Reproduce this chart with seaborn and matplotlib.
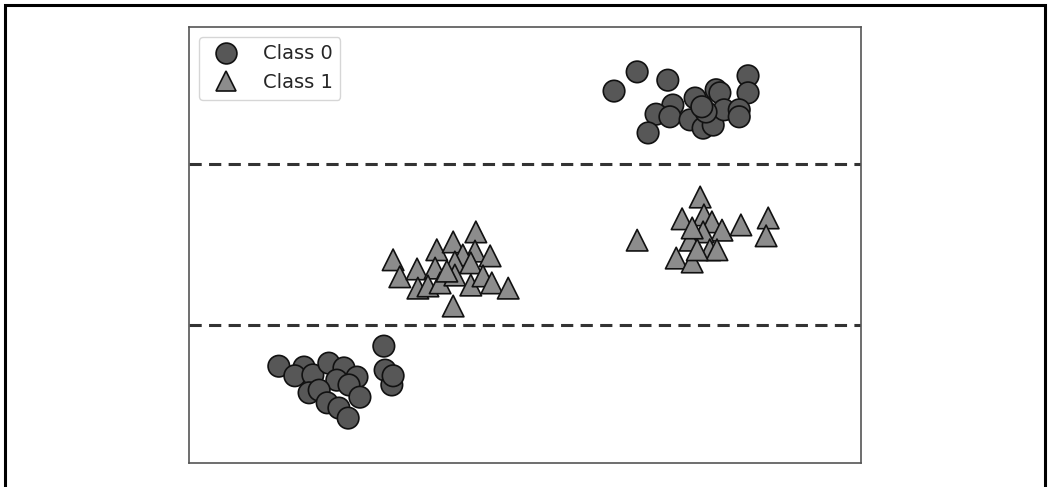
import matplotlib
matplotlib.use("Agg")
import matplotlib.pyplot as plt
from matplotlib.patches import Rectangle
from matplotlib.lines import Line2D
import numpy as np
import pandas as pd
import seaborn as sns

# Class 0: two blobs of circles
class0_x = [10.12, 10.67, 11.40, 13.31, 13.31, 12.55, 12.64, 12.05, 11.52, 11.12,
            11.45, 11.93, 12.24, 12.48, 12.74, 13.10, 13.10, 10.93, 12.31, 12.21,
            2.14, 2.74, 2.52, 2.95, 3.33, 3.69, 4.00, 3.52, 3.81, 2.86,
            3.10, 3.29, 3.57, 3.79, 4.07, 4.64, 4.67, 4.83, 4.86]
class0_y = [8.53, 8.97, 8.78, 8.88, 8.49, 8.56, 8.49, 8.37, 8.21, 8.00,
            7.94, 7.87, 7.68, 7.75, 8.10, 8.10, 7.94, 7.57, 8.05, 8.17,
            2.22, 2.20, 2.00, 2.02, 2.29, 2.18, 1.97, 1.90, 1.79, 1.61,
            1.67, 1.38, 1.26, 1.03, 1.51, 2.68, 2.13, 1.79, 2.00]

# Class 1: two blobs of triangles
class1_x = [10.67, 12.17, 11.74, 12.26, 12.45, 12.69, 13.14, 13.79, 13.74, 12.24,
            11.93, 12.40, 12.57, 11.60, 11.98, 12.10, 11.98,
            4.86, 5.02, 5.43, 5.90, 6.29, 6.83, 6.81, 7.17, 6.52, 5.86,
            6.33, 6.71, 5.45, 5.69, 5.98, 6.33, 6.71, 7.00, 7.21, 7.60,
            6.29, 6.14]
class1_y = [5.11, 6.10, 5.60, 5.69, 5.53, 5.34, 5.46, 5.62, 5.21, 5.30,
            5.11, 4.89, 4.89, 4.70, 4.61, 4.89, 5.39,
            4.66, 4.27, 4.45, 4.89, 5.07, 5.30, 4.86, 4.75, 4.77, 4.47,
            4.61, 4.59, 4.01, 4.06, 4.13, 4.31, 4.08, 4.29, 4.13, 4.01,
            3.60, 4.40]

# Horizontal split thresholds
split_levels = [6.86, 3.17]
class_labels = ["Class 0", "Class 1"]

df = pd.DataFrame({
    "x": class0_x + class1_x,
    "y": class0_y + class1_y,
    "label": [class_labels[0]] * len(class0_x) + [class_labels[1]] * len(class1_x),
})

sns.set_style("white")
plt.rcParams["font.family"] = ["DejaVu Sans"]

fig = plt.figure(figsize=(10.48, 4.87), dpi=100)
ax = fig.add_axes([0.1803, 0.0493, 0.6413, 0.8953])

colors = {class_labels[0]: "#575757", class_labels[1]: "#8c8c8c"}
markers = {class_labels[0]: "o", class_labels[1]: "^"}

sns.scatterplot(data=df, x="x", y="y", hue="label", style="label",
                palette=colors, markers=markers, s=240,
                edgecolor="#111111", linewidth=1.2, ax=ax, legend=False, zorder=3)

for lvl in split_levels:
    ax.axhline(lvl, color="#333333", linestyle="--", linewidth=2.2, dashes=(4, 2.4), zorder=2)

ax.set_xlim(0, 16)
ax.set_ylim(0, 10)
ax.set_xticks([])
ax.set_yticks([])
ax.set_xlabel("")
ax.set_ylabel("")
for sp in ax.spines.values():
    sp.set_color("#555555")
    sp.set_linewidth(1.2)

handles = [
    Line2D([], [], marker="o", linestyle="", markersize=15, markerfacecolor=colors[class_labels[0]],
           markeredgecolor="#111111", markeredgewidth=1.2),
    Line2D([], [], marker="^", linestyle="", markersize=15, markerfacecolor=colors[class_labels[1]],
           markeredgecolor="#111111", markeredgewidth=1.2),
]
ax.legend(handles, class_labels, loc="upper left", fontsize=14, frameon=True,
          handletextpad=0.9, borderpad=0.4, labelspacing=0.5, handlelength=2.0,
          borderaxespad=0.5)

# Outer frame around the figure
fig.patches.append(Rectangle((4.5 / 1048, -0.05), (1045 - 4.5) / 1048, 1.05 - 4.5 / 487,
                             transform=fig.transFigure, fill=False, edgecolor="black",
                             linewidth=2.2, zorder=10))

fig.savefig("out.png", dpi=100)
